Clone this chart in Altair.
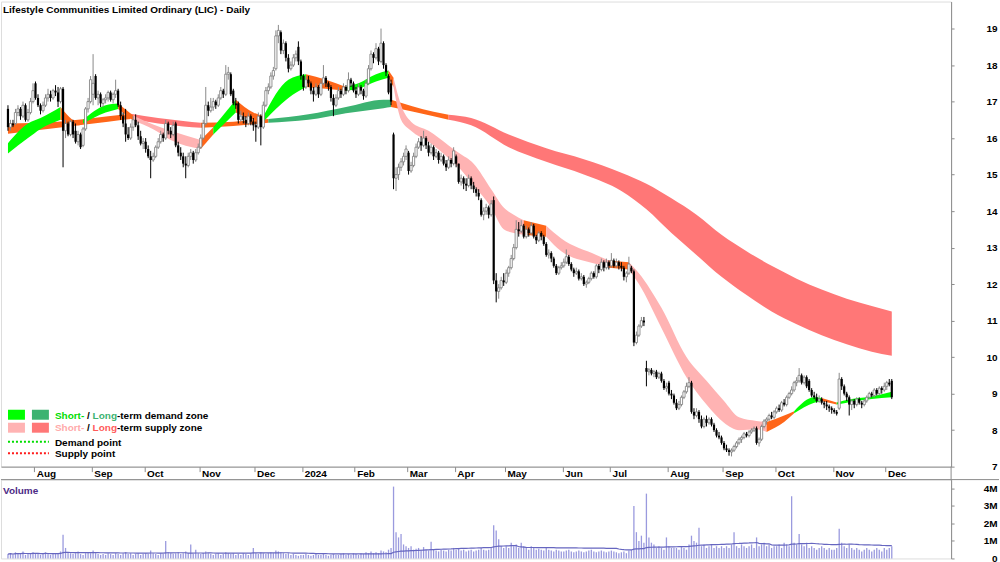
import altair as alt
import pandas as pd

TITLE = "Lifestyle Communities Limited Ordinary (LIC) - Daily"

# trading-day index of the first session of each month, and its label
MONTH_IDX = [11, 34, 55, 77, 99, 118, 139, 160, 179, 199, 222, 241, 264, 286, 307, 330, 351]
MONTH_LBL = ["Aug", "Sep", "Oct", "Nov", "Dec", "2024", "Feb", "Mar", "Apr", "May", "Jun",
             "Jul", "Aug", "Sep", "Oct", "Nov", "Dec"]
PRICE_TICKS = [7, 8, 9, 10, 11, 12, 13, 14, 15, 16, 17, 18, 19]
VOL_TICKS = [0, 1, 2, 3, 4]

# daily OHLC (Jul 2023 .. Dec 2024), one line per month
OPEN = [
    16.8, 16.3, 16.4, 16.4, 16.7, 16.8, 16.6, 16.9, 16.5, 16.7, 17.0,
    17.5, 17.1, 16.9, 16.75, 16.9, 17.1, 17.2, 17.1, 17.3, 17.25, 17.0, 17.35, 16.2, 16.4, 16.1, 16.45, 16.2, 15.9, 16.1, 15.8, 16.25, 16.8, 17.0,
    17.2, 17.7, 17.1, 17.2, 16.95, 17.05, 17.1, 17.25, 17.05, 17.2, 17.3, 16.9, 16.6, 16.4, 16.1, 16.0, 16.3, 16.5, 16.35, 16.05, 15.85,
    15.9, 15.7, 15.5, 15.4, 15.5, 15.75, 15.9, 16.1, 16.0, 16.4, 16.2, 16.1, 16.4, 15.8, 15.6, 15.5, 15.3, 15.25, 15.5, 15.6, 15.4, 15.6,
    15.75, 16.0, 16.4, 16.9, 16.75, 16.85, 17.0, 16.9, 17.1, 17.3, 17.2, 17.75, 17.75, 17.3, 16.95, 16.95, 16.5, 16.6, 16.5, 16.4, 16.6, 16.45,
    16.35, 16.3, 16.6, 16.3, 16.9, 17.3, 17.4, 17.7, 17.9, 18.8, 18.9, 18.4, 18.6, 18.2, 17.9, 18.0, 18.2, 18.5, 18.1,
    17.7, 17.4, 17.6, 17.5, 17.3, 17.2, 17.4, 17.2, 17.5, 17.65, 17.5, 17.4, 17.1, 16.9, 17.1, 17.3, 17.2, 17.4, 17.3, 17.6, 17.5,
    17.3, 17.2, 17.4, 17.3, 17.15, 17.5, 17.9, 18.3, 18.2, 18.45, 18.1, 18.6, 18.0, 17.7, 17.5, 16.1, 14.9, 15.0, 15.2, 15.35, 15.5,
    15.6, 15.1, 15.25, 15.5, 15.75, 15.9, 15.8, 16.0, 15.8, 15.6, 15.75, 15.5, 15.6, 15.4, 15.5, 15.3, 15.2, 15.4, 15.3,
    15.5, 15.3, 14.8, 14.9, 14.75, 14.7, 14.9, 14.7, 14.6, 14.5, 14.3, 13.9, 14.0, 14.1, 13.9, 14.3, 12.1, 11.8, 11.9, 12.1,
    12.05, 12.3, 12.45, 12.7, 13.0, 13.5, 13.45, 13.6, 13.3, 13.5, 13.4, 13.6, 13.3, 13.2, 13.4, 13.3, 13.1, 12.8, 12.85, 12.7, 12.5, 12.3, 12.45,
    12.5, 12.6, 12.75, 12.55, 12.4, 12.3, 12.35, 12.15, 12.2, 12.0, 12.05, 12.15, 12.3, 12.2, 12.5, 12.4, 12.6, 12.45, 12.6,
    12.5, 12.65, 12.5, 12.6, 12.5, 12.45, 12.2, 12.3, 12.45, 12.35, 10.4, 10.6, 10.85, 11.0, 9.7, 9.6, 9.65, 9.55, 9.6, 9.45, 9.55, 9.35, 9.15,
    9.3, 9.0, 8.95, 8.75, 8.6, 8.7, 8.9, 9.05, 9.2, 9.3, 8.5, 8.4, 8.5, 8.3, 8.1, 8.3, 8.2, 8.3, 8.15, 8.0, 7.85, 7.8,
    7.65, 7.5, 7.45, 7.4, 7.45, 7.55, 7.65, 7.75, 7.8, 7.9, 7.85, 7.95, 8.0, 8.05, 7.65, 7.75, 8.1, 8.25, 8.3, 8.4, 8.35,
    8.5, 8.6, 8.55, 8.75, 8.7, 8.9, 9.0, 9.1, 9.3, 9.35, 9.5, 9.3, 9.45, 9.35, 9.1, 8.95, 8.9, 8.8, 8.85, 8.75, 8.7, 8.65, 8.6,
    8.55, 8.5, 8.6, 9.4, 9.2, 9.0, 8.9, 8.7, 8.8, 8.7, 8.85, 8.75, 8.7, 8.8, 8.9, 9.0, 8.95, 9.1, 9.0, 9.15, 9.1,
    9.2, 9.3, 9.35,
]
HIGH = [
    16.9, 16.5, 16.5, 16.8, 16.9, 16.85, 17.0, 16.95, 16.8, 17.1, 17.5,
    17.55, 17.2, 16.95, 17.0, 17.2, 17.35, 17.3, 17.35, 17.45, 17.4, 17.4, 17.4, 16.5, 16.45, 16.5, 16.5, 16.4, 16.2, 16.15, 16.3, 16.85, 17.1, 17.7,
    18.3, 17.75, 17.3, 17.25, 17.1, 17.2, 17.3, 17.3, 17.25, 17.6, 17.35, 17.0, 16.7, 16.8, 16.3, 16.4, 16.6, 16.65, 16.45, 16.2, 16.0,
    16.0, 15.8, 15.65, 15.6, 15.8, 16.0, 16.2, 16.15, 16.5, 16.45, 16.3, 16.45, 16.45, 15.9, 15.75, 15.6, 15.5, 15.6, 15.7, 15.65, 15.7, 15.85,
    16.1, 16.5, 17.4, 17.0, 17.1, 17.1, 17.05, 17.2, 17.4, 17.35, 18.0, 17.95, 17.8, 17.35, 17.1, 17.0, 16.75, 16.7, 16.6, 16.7, 16.65, 16.55,
    16.45, 16.7, 16.65, 17.0, 17.4, 17.5, 17.8, 17.95, 18.95, 19.1, 18.95, 18.7, 18.65, 18.3, 18.1, 18.3, 18.4, 18.65, 18.15,
    17.75, 17.7, 17.7, 17.55, 17.4, 17.5, 17.45, 17.6, 18.0, 17.7, 17.55, 17.45, 17.2, 17.2, 17.4, 17.35, 17.5, 17.45, 17.8, 17.65, 17.55,
    17.4, 17.5, 17.45, 17.35, 17.6, 18.0, 18.4, 18.35, 18.6, 18.5, 19.0, 18.65, 18.05, 17.75, 17.6, 16.15, 15.2, 15.3, 15.45, 15.6, 15.8,
    15.65, 15.35, 15.6, 15.85, 16.0, 16.05, 16.2, 16.05, 15.9, 15.85, 15.8, 15.7, 15.65, 15.6, 15.55, 15.4, 15.5, 15.45, 15.75,
    15.55, 15.3, 15.0, 14.95, 14.9, 15.0, 14.95, 14.8, 14.65, 14.6, 14.35, 14.1, 14.2, 14.15, 14.3, 14.4, 12.3, 12.0, 12.2, 12.3,
    12.4, 12.5, 12.8, 13.1, 13.75, 13.7, 13.75, 13.65, 13.6, 13.55, 13.7, 13.65, 13.35, 13.45, 13.45, 13.35, 13.15, 12.95, 12.9, 12.75, 12.55, 12.5, 12.6,
    12.7, 12.95, 12.8, 12.6, 12.45, 12.45, 12.4, 12.3, 12.25, 12.1, 12.2, 12.35, 12.35, 12.55, 12.55, 12.7, 12.65, 12.7, 12.65,
    12.85, 12.7, 12.7, 12.65, 12.6, 12.5, 12.35, 12.75, 12.5, 12.4, 10.7, 10.9, 11.1, 11.1, 9.9, 9.7, 9.7, 9.65, 9.65, 9.6, 9.6, 9.4, 9.3,
    9.35, 9.1, 9.0, 8.85, 8.8, 8.95, 9.1, 9.3, 9.45, 9.35, 8.6, 8.6, 8.55, 8.4, 8.35, 8.4, 8.35, 8.35, 8.2, 8.05, 7.95, 7.85,
    7.7, 7.6, 7.5, 7.5, 7.6, 7.7, 7.8, 7.85, 7.95, 7.95, 8.0, 8.05, 8.1, 8.1, 7.8, 8.15, 8.3, 8.35, 8.45, 8.5, 8.55,
    8.65, 8.7, 8.8, 8.85, 8.95, 9.05, 9.2, 9.35, 9.45, 9.7, 9.55, 9.5, 9.5, 9.4, 9.15, 9.05, 9.0, 8.95, 8.9, 8.8, 8.8, 8.7, 8.65,
    8.6, 8.55, 9.57, 9.45, 9.25, 9.05, 8.95, 8.85, 8.85, 8.9, 8.9, 8.8, 8.85, 8.95, 9.05, 9.05, 9.15, 9.15, 9.2, 9.2, 9.3,
    9.35, 9.4, 9.4,
]
LOW = [
    16.2, 16.2, 16.3, 16.35, 16.6, 16.5, 16.55, 16.45, 16.45, 16.65, 16.95,
    17.05, 16.85, 16.65, 16.7, 16.85, 17.0, 17.0, 17.05, 17.15, 16.85, 16.95, 15.2, 16.0, 16.05, 16.05, 16.0, 15.85, 15.8, 15.7, 15.75, 16.2, 16.7, 16.95,
    16.9, 17.05, 16.9, 16.85, 16.85, 16.95, 17.0, 17.0, 16.95, 17.1, 16.85, 16.5, 16.3, 15.9, 15.95, 15.95, 16.2, 16.3, 15.95, 15.8, 15.7,
    15.6, 15.45, 14.9, 15.35, 15.45, 15.7, 15.85, 15.9, 15.95, 16.1, 16.0, 16.05, 15.75, 15.5, 15.4, 15.2, 14.9, 15.2, 15.4, 15.3, 15.35, 15.55,
    15.7, 15.95, 16.35, 16.6, 16.7, 16.75, 16.8, 16.85, 17.05, 17.1, 17.15, 17.6, 17.15, 16.9, 16.8, 16.4, 16.45, 16.4, 16.3, 16.35, 16.35, 16.2,
    15.9, 16.25, 15.8, 16.25, 16.85, 17.2, 17.35, 17.6, 17.85, 18.6, 18.3, 18.3, 18.1, 17.8, 17.85, 17.95, 18.1, 18.0, 17.6,
    17.3, 17.35, 17.4, 17.2, 17.0, 17.15, 17.1, 17.15, 17.45, 17.4, 17.3, 17.0, 16.6, 16.85, 17.05, 17.1, 17.15, 17.2, 17.25, 17.4, 17.25,
    17.1, 17.15, 17.2, 17.05, 17.1, 17.45, 17.85, 18.05, 18.15, 18.0, 18.05, 17.9, 17.7, 17.2, 16.9, 14.6, 14.55, 14.85, 15.1, 15.25, 15.4,
    15.0, 15.05, 15.2, 15.45, 15.7, 15.65, 15.75, 15.7, 15.5, 15.55, 15.4, 15.45, 15.3, 15.35, 15.25, 15.1, 15.15, 15.2, 15.25,
    15.2, 14.75, 14.7, 14.6, 14.55, 14.65, 14.6, 14.5, 14.4, 14.3, 13.85, 13.75, 13.9, 13.8, 13.85, 12.0, 11.5, 11.6, 11.85, 11.95,
    12.0, 12.2, 12.4, 12.65, 12.95, 13.3, 13.4, 13.25, 13.25, 13.3, 13.35, 13.25, 13.1, 13.15, 13.2, 13.05, 12.75, 12.7, 12.6, 12.45, 12.25, 12.25, 12.4,
    12.45, 12.55, 12.5, 12.35, 12.2, 12.25, 12.1, 12.1, 11.95, 11.9, 12.0, 12.1, 12.15, 12.15, 12.3, 12.35, 12.35, 12.4, 12.4,
    12.45, 12.45, 12.45, 12.4, 12.35, 12.1, 12.05, 12.25, 12.3, 10.3, 10.35, 10.55, 10.8, 10.85, 9.2, 9.5, 9.5, 9.45, 9.4, 9.4, 9.3, 9.1, 9.05,
    8.95, 8.85, 8.7, 8.55, 8.55, 8.65, 8.85, 9.0, 9.15, 8.45, 8.3, 8.35, 8.2, 8.05, 8.05, 8.1, 8.15, 8.1, 7.95, 7.8, 7.75, 7.6,
    7.45, 7.4, 7.3, 7.28, 7.4, 7.5, 7.6, 7.65, 7.75, 7.8, 7.8, 7.9, 7.95, 7.6, 7.55, 7.7, 8.05, 8.15, 8.25, 8.3, 8.3,
    8.45, 8.5, 8.5, 8.65, 8.65, 8.85, 8.95, 9.05, 9.2, 9.3, 9.25, 9.25, 9.15, 9.05, 8.9, 8.85, 8.75, 8.75, 8.7, 8.6, 8.55, 8.5, 8.45,
    8.45, 8.4, 8.55, 9.1, 8.95, 8.8, 8.4, 8.55, 8.6, 8.65, 8.7, 8.6, 8.65, 8.75, 8.85, 8.9, 8.9, 8.95, 8.95, 9.0, 9.05,
    9.1, 9.2, 8.85,
]
CLOSE = [
    16.3, 16.4, 16.35, 16.7, 16.8, 16.6, 16.9, 16.5, 16.7, 17.0, 17.3,
    17.1, 16.9, 16.75, 16.9, 17.1, 17.2, 17.1, 17.3, 17.25, 17.0, 17.35, 16.2, 16.4, 16.1, 16.45, 16.1, 15.9, 16.1, 15.75, 16.25, 16.8, 17.0, 17.6,
    17.5, 17.1, 17.2, 16.95, 17.05, 17.1, 17.25, 17.05, 17.2, 17.3, 16.9, 16.6, 16.4, 16.1, 16.0, 16.3, 16.5, 16.35, 16.05, 15.85, 15.9,
    15.7, 15.5, 15.4, 15.5, 15.75, 15.9, 16.1, 16.0, 16.4, 16.2, 16.1, 16.35, 15.8, 15.6, 15.5, 15.3, 15.25, 15.5, 15.6, 15.4, 15.6, 15.75,
    16.0, 16.4, 16.9, 16.75, 16.85, 17.0, 16.9, 17.1, 17.3, 17.2, 17.75, 17.8, 17.2, 16.95, 16.9, 16.5, 16.6, 16.5, 16.4, 16.6, 16.45, 16.35,
    16.3, 16.6, 16.3, 16.9, 17.3, 17.4, 17.7, 17.85, 18.8, 18.95, 18.4, 18.6, 18.2, 17.9, 18.0, 18.2, 18.3, 18.1, 17.7,
    17.4, 17.6, 17.5, 17.3, 17.2, 17.4, 17.2, 17.5, 17.65, 17.5, 17.4, 17.1, 16.9, 17.1, 17.3, 17.2, 17.4, 17.3, 17.6, 17.5, 17.3,
    17.2, 17.4, 17.3, 17.15, 17.5, 17.9, 18.3, 18.2, 18.45, 18.1, 18.6, 18.0, 17.8, 17.25, 17.0, 14.9, 15.0, 15.2, 15.35, 15.5, 15.7,
    15.1, 15.25, 15.5, 15.75, 15.9, 15.8, 16.0, 15.8, 15.6, 15.75, 15.5, 15.6, 15.4, 15.5, 15.3, 15.2, 15.4, 15.3, 15.65,
    15.3, 14.8, 14.9, 14.75, 14.7, 14.9, 14.7, 14.6, 14.5, 14.4, 13.9, 14.0, 14.1, 13.9, 14.2, 12.1, 11.8, 11.9, 12.1, 12.05,
    12.3, 12.45, 12.7, 13.0, 13.5, 13.45, 13.6, 13.3, 13.5, 13.4, 13.6, 13.3, 13.2, 13.4, 13.3, 13.1, 12.8, 12.85, 12.7, 12.5, 12.3, 12.45, 12.5,
    12.6, 12.75, 12.55, 12.4, 12.3, 12.35, 12.15, 12.2, 12.0, 12.05, 12.15, 12.3, 12.2, 12.5, 12.4, 12.6, 12.45, 12.6, 12.5,
    12.65, 12.5, 12.6, 12.5, 12.45, 12.2, 12.3, 12.55, 12.35, 10.4, 10.6, 10.85, 11.0, 10.95, 9.6, 9.65, 9.55, 9.6, 9.45, 9.55, 9.35, 9.15, 9.2,
    9.0, 8.95, 8.75, 8.6, 8.7, 8.9, 9.05, 9.2, 9.3, 8.5, 8.4, 8.5, 8.3, 8.1, 8.3, 8.2, 8.3, 8.15, 8.0, 7.85, 7.8, 7.65,
    7.5, 7.45, 7.4, 7.45, 7.55, 7.65, 7.75, 7.8, 7.9, 7.85, 7.95, 8.0, 8.05, 7.65, 7.75, 8.1, 8.25, 8.3, 8.4, 8.35, 8.5,
    8.6, 8.55, 8.75, 8.7, 8.9, 9.0, 9.1, 9.3, 9.35, 9.5, 9.3, 9.45, 9.2, 9.1, 8.95, 8.9, 8.8, 8.85, 8.75, 8.7, 8.65, 8.6, 8.55,
    8.5, 8.45, 9.4, 9.2, 9.0, 8.9, 8.7, 8.8, 8.7, 8.85, 8.75, 8.7, 8.8, 8.9, 9.0, 8.95, 9.1, 9.0, 9.15, 9.1, 9.2,
    9.3, 9.25, 8.9,
]
# daily volume in millions of shares
VOLUME = [
    0.25, 0.3, 0.2, 0.35, 0.3, 0.25, 0.4, 0.2, 0.3, 0.25, 0.35,
    0.3, 0.25, 0.2, 0.3, 0.35, 0.25, 0.2, 0.3, 0.25, 0.3, 0.4, 1.35, 0.6, 0.35, 0.3, 0.25, 0.3, 0.4, 0.25, 0.2, 0.3, 0.35, 0.3,
    0.45, 0.3, 0.25, 0.2, 0.25, 0.2, 0.3, 0.25, 0.2, 0.3, 0.25, 0.2, 0.3, 0.35, 0.25, 0.3, 0.2, 0.25, 0.3, 0.2, 0.25,
    0.3, 0.25, 0.45, 0.3, 0.25, 0.2, 0.3, 0.25, 1.0, 0.35, 0.3, 0.25, 0.3, 0.35, 0.25, 0.3, 0.4, 0.3, 0.8, 0.25, 0.5, 0.3,
    0.25, 0.3, 0.4, 0.3, 0.25, 0.2, 0.25, 0.3, 0.2, 0.25, 0.35, 0.3, 0.25, 0.3, 0.2, 0.25, 0.2, 0.3, 0.25, 0.2, 0.3, 0.6,
    0.3, 0.25, 0.35, 0.3, 0.25, 0.3, 0.35, 0.3, 0.45, 0.4, 0.35, 0.3, 0.25, 0.3, 0.2, 0.25, 0.2, 0.15, 0.2,
    0.2, 0.25, 0.2, 0.15, 0.2, 0.25, 0.2, 0.2, 0.25, 0.2, 0.15, 0.2, 0.25, 0.2, 0.2, 0.25, 0.3, 0.2, 0.25, 0.2, 0.3,
    0.25, 0.2, 0.3, 0.25, 0.35, 0.3, 0.4, 0.3, 0.35, 0.3, 0.45, 0.4, 0.35, 0.5, 0.6, 4.1, 1.5, 1.2, 1.4, 0.8, 0.7,
    0.6, 0.7, 0.5, 0.55, 0.6, 0.5, 0.65, 0.5, 0.45, 0.95, 0.5, 0.45, 0.4, 0.5, 0.45, 0.4, 0.5, 0.45, 0.6,
    0.5, 0.6, 0.45, 0.5, 0.4, 0.45, 0.5, 0.4, 0.45, 0.5, 0.6, 0.5, 0.45, 0.5, 0.6, 1.9, 1.6, 1.1, 0.7, 0.6,
    0.7, 0.6, 0.9, 0.7, 0.8, 0.6, 0.9, 0.7, 0.6, 0.5, 0.7, 0.6, 0.5, 0.55, 0.5, 0.45, 0.6, 0.5, 0.45, 0.4, 0.5, 0.45, 0.4,
    0.4, 0.45, 0.5, 0.4, 0.35, 0.4, 0.45, 0.4, 0.35, 0.4, 0.45, 0.5, 0.4, 0.35, 0.4, 0.45, 0.4, 0.35, 0.4,
    0.45, 0.4, 0.35, 0.3, 0.35, 0.4, 0.3, 0.45, 0.5, 3.0, 1.5, 1.0, 1.3, 0.9, 3.7, 1.2, 0.9, 0.8, 0.6, 0.7, 0.6, 0.5, 1.2,
    0.7, 0.6, 0.6, 0.6, 0.5, 0.7, 0.6, 0.5, 0.8, 1.3, 1.0, 0.9, 1.75, 0.7, 0.8, 0.6, 0.7, 0.8, 0.6, 0.7, 0.6, 0.7,
    0.6, 0.7, 0.6, 0.8, 1.5, 0.7, 0.6, 0.8, 0.7, 0.6, 0.7, 0.8, 0.6, 1.2, 0.7, 0.8, 0.9, 0.7, 0.8, 0.6, 0.7,
    0.7, 0.8, 0.6, 0.9, 0.8, 0.7, 3.55, 0.9, 0.8, 1.4, 0.8, 0.7, 0.9, 0.6, 0.7, 0.6, 0.5, 0.6, 0.7, 0.6, 0.5, 0.6, 0.5,
    0.5, 0.6, 1.7, 0.9, 0.7, 0.6, 0.8, 0.6, 0.5, 0.6, 0.5, 0.4, 0.5, 0.6, 0.5, 0.4, 0.5, 0.6, 0.5, 0.4, 0.6,
    0.5, 0.6, 0.7,
]

# short-term zone band: sample day, upper and lower edge, zone of the stretch that follows
SHORT_IDX = [0, 8, 13, 21, 28, 30, 39, 44, 50, 58, 65, 77, 82, 91, 98, 102, 112, 119, 127, 135,
             140, 147, 152, 154, 157, 161, 168, 176, 180, 186, 193, 198, 202, 206, 215, 221, 235, 240, 248, 252,
             261, 271, 279, 286, 292, 299, 303, 310, 314, 322, 325, 331, 337, 345, 353]
SHORT_HI = [15.86, 16.4, 16.55, 16.85, 16.45, 16.5, 16.9, 16.95, 16.62, 16.37, 16.2, 15.95, 16.3, 17.05, 16.7, 16.6, 17.6, 17.75, 17.6, 17.4,
            17.5, 17.75, 17.85, 17.65, 16.9, 16.45, 16.2, 15.8, 15.6, 15.3, 14.6, 14.1, 13.9, 13.75, 13.6, 13.25, 12.8, 12.65, 12.6, 12.3,
            11.35, 10.0, 9.35, 8.8, 8.35, 8.25, 8.22, 8.4, 8.52, 8.9, 8.88, 8.76, 8.85, 8.92, 9.05]
SHORT_LO = [15.58, 16.0, 16.25, 16.5, 16.35, 16.4, 16.7, 16.8, 16.48, 16.24, 15.95, 15.7, 16.1, 16.7, 16.5, 16.45, 17.1, 17.4, 17.35, 17.3,
            17.35, 17.55, 17.65, 17.4, 16.5, 16.2, 15.9, 15.45, 15.2, 14.7, 14.1, 13.5, 13.4, 13.35, 13.3, 12.9, 12.55, 12.45, 12.4, 12.0,
            10.8, 9.45, 8.7, 8.2, 8.0, 8.02, 7.95, 8.22, 8.46, 8.75, 8.8, 8.7, 8.78, 8.85, 8.9]
SHORT_ZONE = ["G", "G", "G", "O", "O", "G", "G", "O", "P", "P", "P", "O", "G", "O", "O", "G", "G", "O", "O", "G",
              "G", "G", "O", "P", "P", "P", "P", "P", "P", "P", "P", "P", "P", "O", "P", "P", "P", "O", "P", "P",
              "P", "P", "P", "P", "P", "P", "O", "O", "G", "G", "O", "G", "G", "G", "G"]

# long-term zone band
LONG_IDX = [0, 20, 40, 49, 60, 70, 77, 90, 104, 120, 135, 150, 153, 170, 176, 185, 200, 215, 230, 245,
            255, 265, 275, 285, 295, 305, 315, 325, 335, 345, 353]
LONG_HI = [16.4, 16.45, 16.6, 16.67, 16.55, 16.47, 16.42, 16.45, 16.52, 16.65, 16.85, 17.05, 17.05, 16.72, 16.64, 16.55, 16.1, 15.72, 15.42, 15.05,
           14.75, 14.35, 13.9, 13.35, 12.9, 12.5, 12.15, 11.85, 11.6, 11.4, 11.25]
LONG_LO = [16.12, 16.28, 16.45, 16.52, 16.4, 16.32, 16.28, 16.33, 16.42, 16.5, 16.68, 16.82, 16.85, 16.6, 16.5, 16.35, 15.75, 15.35, 15.0, 14.55,
           14.05, 13.4, 12.8, 12.2, 11.7, 11.25, 10.9, 10.6, 10.35, 10.15, 10.04]
LONG_ZONE = ["O", "O", "O", "R", "R", "R", "O", "O", "D", "D", "D", "D", "O", "O", "R", "R", "R", "R", "R", "R",
             "R", "R", "R", "R", "R", "R", "R", "R", "R", "R", "R"]

ZONE_COLORS = {"G": "#00ff00", "D": "#3cb371", "P": "#ffb3b3", "R": "#ff7777", "O": "#ff6619"}
FONT = "Liberation Sans"
AXIS_GREY = "#8c8c8c"


def band_rows(idx, hi, lo, zone):
    rows, run, start, n = [], 0, 0, len(idx)
    while start < n - 1:
        end = start
        while end + 1 < n - 1 and zone[end + 1] == zone[start]:
            end += 1
        for j in range(start, end + 2):
            rows.append({"i": idx[j], "hi": hi[j], "lo": lo[j], "run": run,
                         "col": ZONE_COLORS[zone[start]]})
        run += 1
        start = end + 1
    return pd.DataFrame(rows)


n = min(len(OPEN), len(HIGH), len(LOW), len(CLOSE), len(VOLUME))
df = pd.DataFrame({"i": list(range(n)), "o": OPEN[:n], "h": HIGH[:n], "l": LOW[:n],
                   "c": CLOSE[:n], "v": VOLUME[:n]})
short_df = band_rows(SHORT_IDX, SHORT_HI, SHORT_LO, SHORT_ZONE)
long_df = band_rows(LONG_IDX, LONG_HI, LONG_LO, LONG_ZONE)
one = pd.DataFrame({"k": [0]})

W, HP, HV = 952, 466, 79
xscale = alt.Scale(domain=[-0.79, 374.7], nice=False, zero=False)
pscale = alt.Scale(domain=[7, 19.74], nice=False, zero=False)
vscale = alt.Scale(domain=[0, 4.5], nice=False, zero=False)

tick_vals = [v - 0.5 for v in MONTH_IDX]
label_expr = ("[" + ",".join("'%s'" % s for s in MONTH_LBL) + "][indexof(["
              + ",".join(str(v) for v in tick_vals) + "], datum.value)]")

x_axis = alt.Axis(values=tick_vals, labelExpr=label_expr, orient="bottom", grid=False,
                  domainColor=AXIS_GREY, tickColor=AXIS_GREY, tickSize=5, labelAlign="left",
                  labelOffset=2, labelBaseline="alphabetic", labelPadding=5, labelFont=FONT,
                  labelFontWeight="bold", labelFontSize=10, labelColor="black", title=None,
                  labelFlush=False, labelOverlap=False)
y_axis = alt.Axis(values=PRICE_TICKS, orient="right", grid=False, domainColor=AXIS_GREY,
                  tickColor=AXIS_GREY, tickSize=3, labelAlign="right", labelPadding=43,
                  labelFont=FONT, labelFontWeight="bold", labelFontSize=10, labelColor="black",
                  title=None, labelFlush=False, labelOverlap=False)
v_axis = alt.Axis(values=VOL_TICKS, orient="right", grid=False, domainColor=AXIS_GREY,
                  tickColor=AXIS_GREY, tickSize=3, labelAlign="right", labelPadding=43,
                  labelFont=FONT, labelFontWeight="bold", labelFontSize=10, labelColor="black",
                  title=None, labelFlush=False, labelOverlap=False,
                  labelExpr="datum.value == 0 ? '0' : datum.value + 'M'")

X = alt.X("i:Q", scale=xscale, axis=x_axis)


def band(data):
    return alt.Chart(data).mark_area(interpolate="monotone").encode(
        x=X, y=alt.Y("hi:Q", scale=pscale, axis=y_axis), y2="lo:Q",
        color=alt.Color("col:N", scale=None), detail="run:N")


def txt(x, y, s, color="black"):
    return alt.Chart(one).mark_text(text=s, align="left", baseline="alphabetic", font=FONT,
                                    fontWeight="bold", fontSize=10, color=color).encode(
        x=alt.value(x), y=alt.value(y))


def box(x1, x2, y1, y2, color):
    return alt.Chart(one).mark_rect(color=color).encode(
        x=alt.value(x1), x2=alt.value(x2), y=alt.value(y1), y2=alt.value(y2))


def dotted(y, color):
    return alt.Chart(one).mark_rule(color=color, strokeDash=[2, 2], strokeWidth=2).encode(
        x=alt.value(7), x2=alt.value(48), y=alt.value(y))


wick = alt.Chart(df).mark_rule(strokeWidth=1).encode(
    x=X, y=alt.Y("l:Q", scale=pscale, axis=y_axis), y2="h:Q",
    color=alt.condition("datum.c >= datum.o", alt.value("#8a8a8a"), alt.value("#000000")))
up = alt.Chart(df).transform_filter("datum.c >= datum.o").mark_bar(
    size=2.2, fill="white", stroke="#7a7a7a", strokeWidth=0.8).encode(
    x=X, y=alt.Y("o:Q", scale=pscale, axis=y_axis), y2="c:Q")
down = alt.Chart(df).transform_filter("datum.c < datum.o").mark_bar(
    size=2.2, color="black").encode(
    x=X, y=alt.Y("o:Q", scale=pscale, axis=y_axis), y2="c:Q")

legend = [
    box(7, 24, 409, 419, ZONE_COLORS["G"]), box(31, 48, 409, 419, ZONE_COLORS["D"]),
    box(7, 24, 422, 432, ZONE_COLORS["P"]), box(31, 48, 422, 432, ZONE_COLORS["R"]),
    txt(54, 418, "Short-", "#00dd00"), txt(86.2, 418, "/"), txt(91.8, 418, "Long", "#3cb371"),
    txt(116.2, 418, "-term demand zone"),
    txt(54, 430.5, "Short-", "#ffaaaa"), txt(86.2, 430.5, "/"), txt(91.8, 430.5, "Long", "#ff5a5a"),
    txt(116.2, 430.5, "-term supply zone"),
    dotted(441, "#00dd00"), txt(54, 445, "Demand point"),
    dotted(452.5, "#ff1a1a"), txt(54, 456.5, "Supply point"),
]

gap_rule = alt.Chart(one).mark_rule(color=AXIS_GREY).encode(
    x=alt.value(W), y=alt.value(HP), y2=alt.value(HP + 14))

price = alt.layer(
    band(long_df), band(short_df), wick, up, down,
    txt(2, 11, TITLE), *legend, gap_rule,
).properties(width=W, height=HP)

XV = alt.X("i:Q", scale=xscale, axis=None)
vbars = alt.Chart(df).mark_bar(size=1.3, color="#9a9ade").encode(
    x=XV, y=alt.Y("v:Q", scale=vscale, axis=v_axis))
vma = alt.Chart(df).transform_window(
    ma="mean(v)", frame=[-49, 0], sort=[alt.SortField("i")]
).mark_line(color="#6666c0", strokeWidth=1.2).encode(
    x=XV, y=alt.Y("ma:Q", scale=vscale, axis=v_axis))
top_rule = alt.Chart(one).mark_rule(color=AXIS_GREY).encode(
    x=alt.value(0), x2=alt.value(1000), y=alt.value(0))
vol_label = alt.Chart(one).mark_text(text="Volume", align="left", baseline="alphabetic", font=FONT,
                                     fontWeight="bold", fontSize=10, color="#4c2a85").encode(
    x=alt.value(2), y=alt.value(14))

volume = alt.layer(vbars, vma, top_rule, vol_label).properties(width=W, height=HV)

chart = alt.vconcat(price, volume, spacing=13, bounds="flush").properties(
    padding=0, background="white"
).configure_view(strokeWidth=0).configure(font=FONT)

chart.save("out.html", embed_options={"renderer": "svg", "actions": False})
